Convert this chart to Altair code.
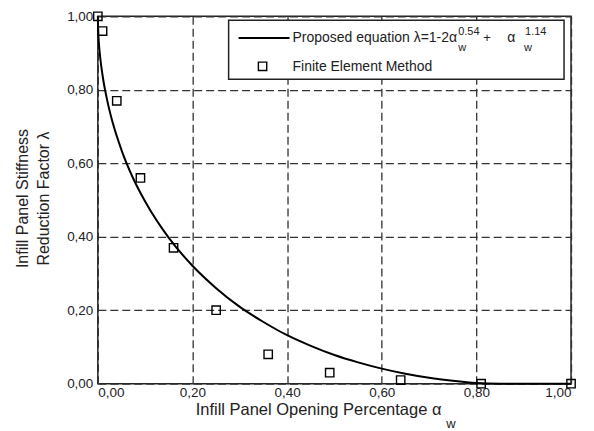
import altair as alt
import pandas as pd

# Proposed equation curve
curve_alpha = [0.0, 0.0005, 0.002, 0.005, 0.01, 0.02, 0.03, 0.05, 0.075, 0.1, 0.15, 0.2,
               0.25, 0.3, 0.35, 0.4, 0.45, 0.5, 0.55, 0.6, 0.65, 0.7, 0.75, 0.8,
               0.85, 0.9, 0.95, 1.0]
curve_lambda = [1.0, 0.967, 0.931, 0.888, 0.839, 0.770, 0.717, 0.636, 0.558, 0.496, 0.397, 0.321,
                0.260, 0.209, 0.168, 0.132, 0.103, 0.078, 0.058, 0.041, 0.027, 0.016, 0.008, 0.002,
                0.0, 0.0, 0.0, 0.0]

# Finite Element Method points
fem_alpha = [0.0, 0.01, 0.04, 0.09, 0.16, 0.25, 0.36, 0.49, 0.64, 0.81, 1.0]
fem_lambda = [1.0, 0.96, 0.77, 0.56, 0.37, 0.20, 0.08, 0.03, 0.01, 0.0, 0.0]

tick_values = [0.0, 0.2, 0.4, 0.6, 0.8, 1.0]

FONT = "Liberation Sans"
INK = "#222222"

curve_df = pd.DataFrame({"a": curve_alpha, "l": curve_lambda})
fem_df = pd.DataFrame({"a": fem_alpha, "l": fem_lambda})
one = pd.DataFrame({"k": [0]})

label_expr = "replace(format(datum.value, '.2f'), '.', ',')"

xscale = alt.Scale(domain=[0, 1], nice=False, zero=False)
yscale = alt.Scale(domain=[0, 1], nice=False, zero=False)

xaxis = alt.Axis(values=tick_values, labelExpr=label_expr, title=None, grid=True,
                 labelPadding=2, labelFontSize=13.5)
yaxis = alt.Axis(values=tick_values, labelExpr=label_expr, grid=True, labelPadding=5,
                 labelFontSize=13.5,
                 title=["Infill Panel Stiffness", "Reduction Factor λ"],
                 titleFontSize=16, titleFontWeight="normal", titleFont=FONT, titleColor=INK,
                 titleX=-75, titleY=182, titleBaseline="middle", titleLineHeight=21,
                 titleAlign="center")

line = alt.Chart(curve_df).mark_line(color="black", strokeWidth=2, interpolate="monotone").encode(
    x=alt.X("a:Q", scale=xscale, axis=xaxis),
    y=alt.Y("l:Q", scale=yscale, axis=yaxis),
)

pts = alt.Chart(fem_df).mark_point(shape="square", filled=False, color="black", size=70,
                                   strokeWidth=1.4, opacity=1).encode(
    x=alt.X("a:Q", scale=xscale),
    y=alt.Y("l:Q", scale=yscale),
)

# custom legend
box = alt.Chart(one).mark_rect(fill="white", stroke=INK, strokeWidth=1.5).encode(
    x=alt.value(131), x2=alt.value(467), y=alt.value(4), y2=alt.value(63))
leg_line = alt.Chart(one).mark_rule(color="black", strokeWidth=2).encode(
    x=alt.value(141), x2=alt.value(192), y=alt.value(21.7))
leg_sq = alt.Chart(one).mark_point(shape="square", filled=False, color="black", size=70,
                                   strokeWidth=1.4, opacity=1).encode(
    x=alt.value(165), y=alt.value(50))


def txt(s, x, y, size, baseline="middle", align="left"):
    return alt.Chart(one).mark_text(text=s, font=FONT, fontSize=size, color=INK,
                                    align=align, baseline=baseline).encode(
        x=alt.value(x), y=alt.value(y))


texts = [
    txt("Proposed equation λ=1-2α", 195, 22, 14),
    txt("0.54", 361, 16, 11),
    txt("w", 361, 32, 11),
    txt("+", 386, 22, 13),
    txt("α", 410, 22, 14),
    txt("1.14", 428, 16, 11),
    txt("w", 427, 32, 11),
    txt("Finite Element Method", 195, 51, 14),
    txt("Infill Panel Opening Percentage α", 98, 399, 16.5, baseline="alphabetic"),
    txt("w", 349, 412, 13, baseline="alphabetic"),
]

chart = alt.layer(line, pts, box, leg_line, leg_sq, *texts).properties(
    width=474, height=368,
    autosize=alt.AutoSizeParams(type="none"),
    padding={"left": 90, "top": 8, "right": 15, "bottom": 46},
).configure_view(
    stroke=INK, strokeWidth=1.5
).configure_axis(
    domain=False, ticks=False, labelFont=FONT, labelColor=INK,
    gridDash=[8, 4], gridColor="#333333", gridWidth=1.3, gridOpacity=1,
)

chart.save("out.html", embed_options={"renderer": "svg", "actions": False})
